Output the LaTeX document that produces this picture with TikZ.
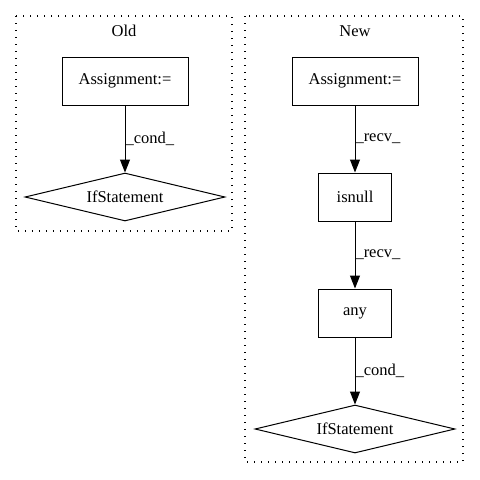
\documentclass[tikz,border=0pt]{standalone}
\usepackage{fontspec}
\setmainfont{Liberation Serif}
\usetikzlibrary{arrows.meta,shapes.geometric}
\begin{document}
\begin{tikzpicture}[
            x=1pt, y=-1pt,
            line width=1pt,
            >={Stealth[length=13pt,width=10pt,inset=0pt]},
            font=\fontsize{16.5}{18}\selectfont,
            ent/.style={draw, rectangle, align=center, minimum height=48pt, inner xsep=8pt},
            cnd/.style={draw, diamond, aspect=4.2, minimum width=200pt, minimum height=48pt, inner sep=0pt},
            clu/.style={draw, line width=1.3pt, dash pattern=on 1.3pt off 5.7pt},
            lbl/.style={right, inner xsep=0pt}
        ]
           \useasboundingbox (0,0) rectangle (480,480);

           % Old
           \draw[clu] (16,16) rectangle (232,231);
           \node (oldt) at (124,31) {Old};
           \node[ent, minimum width=126pt] (oa) at (125,81) {Assignment:=};
           \node[cnd] (oif) at (125,197) {IfStatement};
           \draw[->] (oa) -- (oif) node[lbl, midway] {\_cond\_};

           % New
           \draw[clu] (245,16) rectangle (463,462);
           \node (newt) at (355,31) {New};
           \node[ent, minimum width=126pt] (na) at (355,81) {Assignment:=};
           \node[ent, minimum width=73pt] (isn) at (355,197) {isnull};
           \node[ent, minimum width=73pt] (any) at (355,313) {any};
           \node[cnd] (nif) at (355,429) {IfStatement};

           \draw[->] (na) -- (isn) node[lbl, midway] {\_recv\_};
           \draw[->] (isn) -- (any) node[lbl, midway] {\_recv\_};
           \draw[->] (any) -- (nif) node[lbl, midway] {\_cond\_};
        \end{tikzpicture}
\end{document}
